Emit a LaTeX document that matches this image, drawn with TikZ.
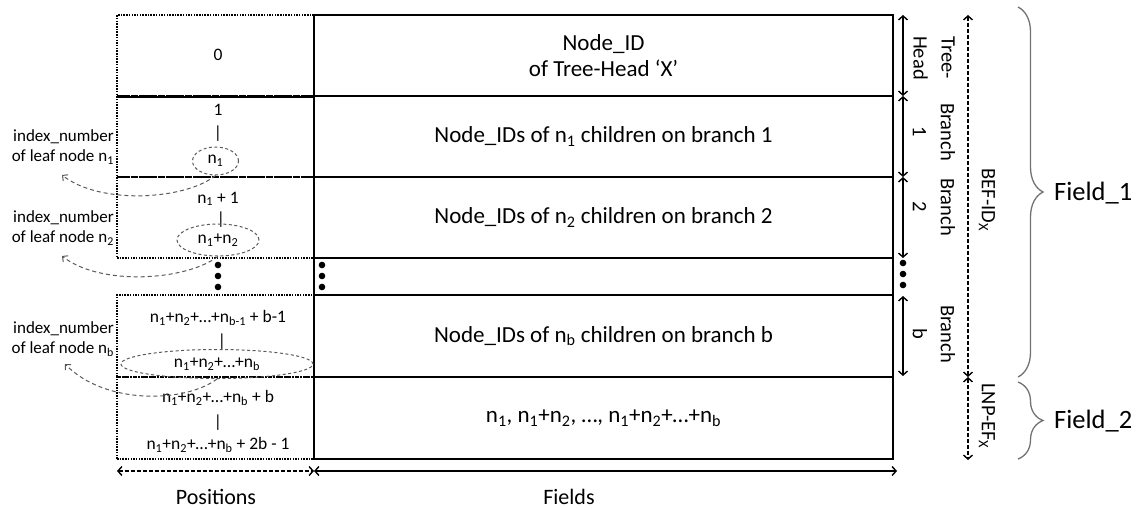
\documentclass[tikz,border=0pt]{standalone}
\usepackage{fontspec}
\setmainfont{Carlito}
\usetikzlibrary{arrows.meta,shapes.geometric,decorations.pathreplacing}

\tikzset{
  fieldbox/.style={draw, line width=1.6pt, minimum width=579pt, inner sep=0pt,
                   font=\fontsize{23}{26}\selectfont, align=center},
  posbox/.style={draw, line width=1.5pt, dash pattern=on 1.5pt off 1.2pt,
                 minimum width=197pt, inner sep=0pt},
  posnum/.style={font=\fontsize{17.5}{21}\selectfont, inner sep=0pt},
  leafell/.style={ellipse, draw=black!65, dash pattern=on 3pt off 2.5pt,
                  line width=1pt, inner sep=0pt, font=\fontsize{17.5}{21}\selectfont},
  note/.style={font=\fontsize{17}{20}\selectfont, align=right, inner sep=0pt},
  leafarrow/.style={draw=black!65, dash pattern=on 4pt off 3pt, line width=1pt,
                    -{Straight Barb[length=4pt,width=8pt]}},
  extent/.style={line width=1.4pt,
                 {Straight Barb[length=4pt,width=9pt]}-{Straight Barb[length=4pt,width=9pt]}},
  dextent/.style={extent, dash pattern=on 4pt off 2pt},
  sidelab/.style={rotate=-90, font=\fontsize{20.5}{28}\selectfont, align=center, inner sep=0pt},
  fieldbrace/.style={draw=black!55, line width=1.3pt, decorate,
                     decoration={brace, amplitude=25pt}},
  vdot/.style={circle, fill, inner sep=0pt, minimum size=6.6pt},
  caption/.style={font=\fontsize{22}{26}\selectfont, inner sep=0pt},
  fieldname/.style={font=\fontsize{26.5}{30}\selectfont, inner sep=0pt, anchor=west},
}

\begin{document}
\begin{tikzpicture}[x=1pt,y=-1pt]
\useasboundingbox (0,0) rectangle (1139,509);

% ---- position column (dotted) ----
\node[posbox, minimum height=81pt] (p0) at (215.5,55.5) {};
\node[posbox, minimum height=81pt] (p1) at (215.5,136.5) {};
\node[posbox, minimum height=81pt] (p2) at (215.5,217.5) {};
\node[posbox, minimum height=82pt] (pb) at (215.5,336) {};
\node[posbox, minimum height=82pt] (pl) at (215.5,418) {};
\draw[line width=1.6pt] (p0.south west) -- (p0.south east);

% ---- field column ----
\node[fieldbox, minimum height=81pt] (r0) at (603.5,55.5) {Node\_ID\\of Tree-Head ‘X’};
\node[fieldbox, minimum height=81pt] (r1) at (603.5,136.5)
  {Node\_IDs of n\textsubscript{1} children on branch 1};
\node[fieldbox, minimum height=81pt] (r2) at (603.5,217.5)
  {Node\_IDs of n\textsubscript{2} children on branch 2};
\node[fieldbox, minimum height=37pt] (rd) at (603.5,276.5) {};
\node[fieldbox, minimum height=82pt] (rb) at (603.5,336)
  {Node\_IDs of n\textsubscript{b} children on branch b};
\node[fieldbox, minimum height=82pt] (rl) at (603.5,418)
  {n\textsubscript{1}, n\textsubscript{1}+n\textsubscript{2}, …, n\textsubscript{1}+n\textsubscript{2}+…+n\textsubscript{b}};

\node[vdot] (rd1) at (322,265) {};
\node[vdot] (rd2) at (322,276) {};
\node[vdot] (rd3) at (322,287) {};

% ---- position numbers ----
\node[posnum] (t0) at (218,55) {0};
\node[posnum] (t1a) at (218,110) {1};
\node[posnum] (t1b) at (218,134) {|};
\node[leafell, minimum width=46pt, minimum height=28pt] (e1) at (215.5,161) {n\textsubscript{1}};
\node[posnum] (t2a) at (218,199) {n\textsubscript{1} + 1};
\node[posnum] (t2b) at (221,220) {|};
\node[leafell, minimum width=82pt, minimum height=32pt] (e2) at (218,240) {n\textsubscript{1}+n\textsubscript{2}};
\node[vdot] (pd1) at (218,265) {};
\node[vdot] (pd2) at (218,276) {};
\node[vdot] (pd3) at (218,287) {};
\node[posnum] (tba) at (218,318)
  {n\textsubscript{1}+n\textsubscript{2}+…+n\textsubscript{b-1} + b-1};
\node[posnum] (tbb) at (222,342) {|};
\node[leafell, minimum width=192pt, minimum height=29pt] (eb) at (217,364)
  {n\textsubscript{1}+n\textsubscript{2}+…+n\textsubscript{b}};
\node[posnum] (tla) at (218,398) {n\textsubscript{1}+n\textsubscript{2}+…+n\textsubscript{b} + b};
\node[posnum] (tlb) at (218,423) {|};
\node[posnum] (tlc) at (218,445) {n\textsubscript{1}+n\textsubscript{2}+…+n\textsubscript{b} + 2b - 1};

% ---- leaf-node notes ----
\node[note, anchor=east] (a1) at (114,147) {index\_number\\of leaf node n\textsubscript{1}};
\node[note, anchor=east] (a2) at (114,228) {index\_number\\of leaf node n\textsubscript{2}};
\node[note, anchor=east] (ab) at (114,339) {index\_number\\of leaf node n\textsubscript{b}};
\coordinate (k1) at (62,175);
\coordinate (k2) at (62,256);
\coordinate (kb) at (65,364);
\draw[leafarrow] (e1.south) .. controls (185,200) and (100,205) .. (k1);
\draw[leafarrow] (e2.south) .. controls (185,281) and (100,286) .. (k2);
\draw[leafarrow] (eb.south) .. controls (185,403) and (105,405) .. (kb);

% ---- row extents on the right ----
\coordinate (s0) at (903,15);
\coordinate (s1) at (903,96);
\coordinate (s2) at (903,177);
\coordinate (s3) at (903,258);
\coordinate (s4) at (903,296);
\coordinate (s5) at (903,376);
\draw[extent] (s0) -- (s1);
\draw[extent] (s1) -- (s2);
\draw[extent] (s2) -- (s3);
\draw[extent] (s4) -- (s5);
\node[vdot] (sd1) at (903,263) {};
\node[vdot] (sd2) at (903,274) {};
\node[vdot] (sd3) at (903,285) {};
\node[sidelab] (lh) at (934,58) {Tree-\\Head};
\node[sidelab] (l1) at (934,132) {Branch\\1};
\node[sidelab] (l2) at (934,207) {Branch\\2};
\node[sidelab] (lb) at (934,334) {Branch\\b};

% ---- sub-field extents ----
\coordinate (u0) at (968,15);
\coordinate (u1) at (968,377);
\coordinate (u2) at (968,460);
\draw[dextent] (u0) -- (u1);
\draw[dextent] (u1) -- (u2);
\node[sidelab] (lbef) at (987,200) {BEF-ID\textsubscript{X}};
\node[sidelab] (llnp) at (987,416) {LNP-EF\textsubscript{X}};

% ---- field braces ----
\coordinate (f1a) at (1018,7);
\coordinate (f1b) at (1018,377);
\coordinate (f2a) at (1018,382);
\coordinate (f2b) at (1018,459);
\draw[fieldbrace] (f1a) -- (f1b);
\draw[fieldbrace] (f2a) -- (f2b);
\node[fieldname] (fn1) at (1054,193) {Field\_1};
\node[fieldname] (fn2) at (1054,421) {Field\_2};

% ---- bottom axes ----
\coordinate (b0) at (117,471);
\coordinate (b1) at (314,471);
\coordinate (b2) at (897,471);
\draw[dextent] (b0) -- (b1);
\draw[extent] (b1) -- (b2);
\node[caption] (posl) at (216,497) {Positions};
\node[caption] (fldl) at (569,497) {Fields};
\end{tikzpicture}
\end{document}
